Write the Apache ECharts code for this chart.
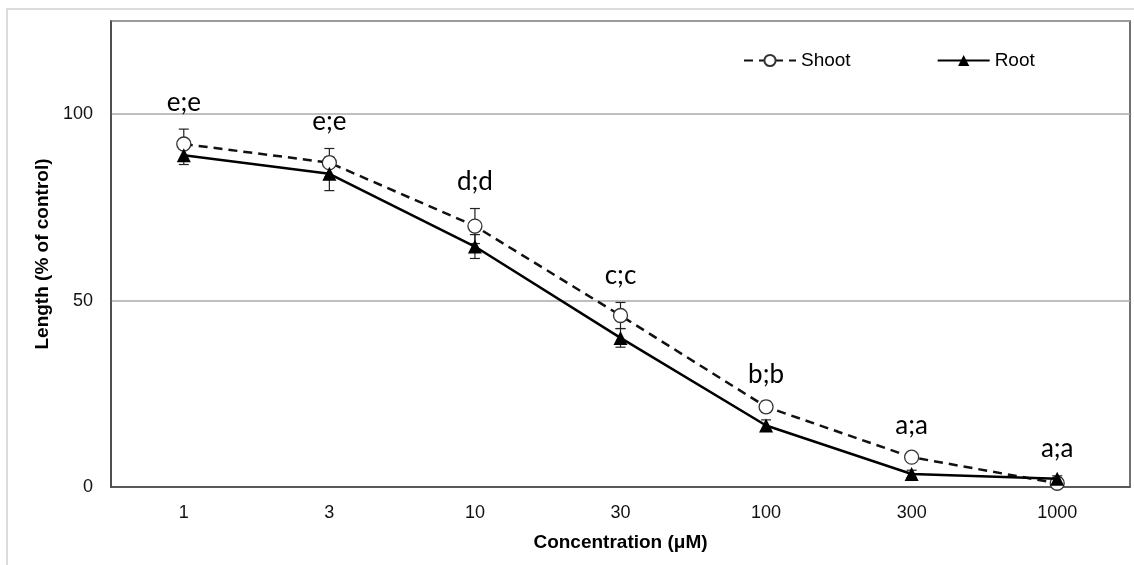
<!DOCTYPE html>
<html>
<head>
<meta charset="utf-8">
<script src="https://cdn.jsdelivr.net/npm/echarts@6/dist/echarts.min.js"></script>
<style>
  html, body { margin: 0; padding: 0; background: #fff; }
  #chart { width: 1134px; height: 565px; }
</style>
</head>
<body>
<div id="chart"></div>
<script>
// concentrations (µM)
const categories = ['1', '3', '10', '30', '100', '300', '1000'];
// length, % of control
const shoot = [92, 87, 70, 46, 21.5, 8, 1];
const shootErr = [4, 3.8, 4.7, 3.5, 1.5, 1.2, 0.5];
const root = [89, 84, 64.5, 40, 16.5, 3.5, 2.2];
const rootErr = [2.5, 4.5, 3.2, 2.5, 1.5, 1, 0.8];
// significance letters (shoot;root)
const letters = ['e;e', 'e;e', 'd;d', 'c;c', 'b;b', 'a;a', 'a;a'];
const yTicks = [0, 50, 100];

const chart = echarts.init(document.getElementById('chart'), null, { renderer: 'canvas' });

const errData = (vals, errs) => vals.map((v, i) => [i, v, errs[i]]);

// vertical error bar with caps
const renderErr = (params, api) => {
	const i = api.value(0);
	const v = api.value(1);
	const e = api.value(2);
	const hi = api.coord([i, v + e]);
	const lo = api.coord([i, v - e]);
	const w = 5;
	const style = { stroke: '#222', lineWidth: 1.2 };
	return {
		type: 'group',
		children: [
			{ type: 'line', shape: { x1: hi[0], y1: hi[1], x2: lo[0], y2: lo[1] }, style },
			{ type: 'line', shape: { x1: hi[0] - w, y1: hi[1], x2: hi[0] + w, y2: hi[1] }, style },
			{ type: 'line', shape: { x1: lo[0] - w, y1: lo[1], x2: lo[0] + w, y2: lo[1] }, style },
		],
	};
};

const letterData = letters.map((t, i) => [
	i,
	Math.max(shoot[i] + shootErr[i], root[i] + rootErr[i]),
	t,
]);

const option = {
	animation: false,
	backgroundColor: '#fff',
	textStyle: { fontFamily: 'Liberation Sans, Arial, sans-serif' },
	graphic: [
		{
			type: 'polyline',
			shape: { points: [[7, 570], [7, 9], [1140, 9]] },
			style: { stroke: '#dcdcdc', lineWidth: 2, fill: null },
			silent: true,
		},
	],
	grid: {
		left: 111,
		right: 4,
		top: 21,
		bottom: 78,
		show: true,
		borderColor: '#444',
		borderWidth: 1.5,
	},
	legend: {
		left: 743,
		top: 51,
		padding: 0,
		itemWidth: 52,
		itemHeight: 14,
		itemGap: 86,
		textStyle: { fontSize: 19, color: '#000', fontFamily: 'Liberation Sans, Arial, sans-serif' },
		data: ['Shoot', 'Root'],
	},
	xAxis: {
		type: 'category',
		data: categories,
		boundaryGap: true,
		name: 'Concentration (μM)',
		nameLocation: 'middle',
		nameGap: 46,
		nameTextStyle: { fontSize: 19, fontWeight: 'bold', color: '#000' },
		axisLine: { lineStyle: { color: '#444', width: 1.5 } },
		axisTick: { inside: true, alignWithLabel: true, length: 4, lineStyle: { color: '#444' } },
		axisLabel: { fontSize: 18, color: '#111', margin: 17 },
		splitLine: { show: false },
	},
	yAxis: {
		type: 'value',
		min: 0,
		max: 125,
		interval: 50,
		name: 'Length (% of control)',
		nameLocation: 'middle',
		nameGap: 58,
		nameTextStyle: { fontSize: 19, fontWeight: 'bold', color: '#000' },
		axisLine: { show: true, lineStyle: { color: '#444', width: 1.5 } },
		axisTick: { show: false },
		axisLabel: {
			fontSize: 18,
			color: '#111',
			margin: 18,
			formatter: (v) => (yTicks.includes(v) ? String(v) : ''),
		},
		splitLine: { lineStyle: { color: '#aaa', width: 1.5 } },
	},
	series: [
		{
			name: 'shootErr',
			type: 'custom',
			renderItem: renderErr,
			data: errData(shoot, shootErr),
			z: 1,
			silent: true,
		},
		{
			name: 'rootErr',
			type: 'custom',
			renderItem: renderErr,
			data: errData(root, rootErr),
			z: 1,
			silent: true,
		},
		{
			name: 'Shoot',
			type: 'line',
			data: shoot,
			symbol: 'circle',
			symbolSize: 14,
			itemStyle: { color: '#fff', borderColor: '#333', borderWidth: 1.3 },
			lineStyle: { color: '#111', width: 2.5, type: [9, 6] },
			z: 2,
		},
		{
			name: 'Root',
			type: 'line',
			data: root,
			symbol: 'triangle',
			symbolSize: 14,
			itemStyle: { color: '#000' },
			lineStyle: { color: '#000', width: 2.5 },
			z: 3,
		},
		{
			name: 'letters',
			type: 'custom',
			data: letterData,
			silent: true,
			z: 4,
			renderItem: (params, api) => {
				const p = api.coord([api.value(0), api.value(1)]);
				return {
					type: 'text',
					x: p[0],
					y: p[1] - 27,
					style: {
						text: letterData[params.dataIndex][2],
						fontSize: 26,
						fontFamily: 'Lato, sans-serif',
						fill: '#000',
						align: 'center',
						verticalAlign: 'middle',
					},
				};
			},
		},
	],
};

chart.setOption(option);
</script>
</body>
</html>
